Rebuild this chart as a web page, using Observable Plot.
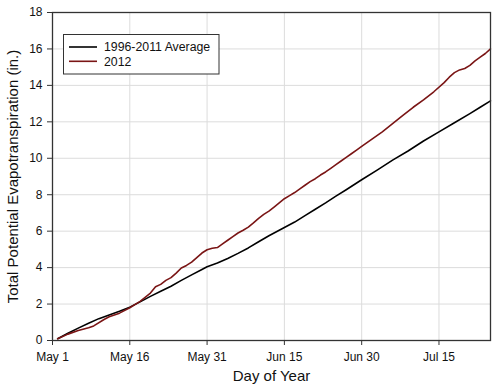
<!DOCTYPE html>
<html><head><meta charset="utf-8">
<script src="https://cdn.jsdelivr.net/npm/d3@7"></script>
<script src="https://cdn.jsdelivr.net/npm/@observablehq/plot@0.6"></script>
<style>
body{margin:0;background:#fff;font-family:"Liberation Sans",Arial,sans-serif;}
</style></head><body><div id="chart"></div>
<script>
// Days since May 1 (0 = May 1)
const avgDays = [1,3,5,7,9,11,13,15,17,19,21,23,25,27,29,30,32,34,36,38,40,42,44,45,47,49,51,53,55,57,60,63,66,69,72,75,78,81,83,85];
const avgValues = [0.1,0.4,0.68,0.95,1.2,1.4,1.6,1.83,2.12,2.42,2.7,2.98,3.3,3.6,3.9,4.05,4.25,4.5,4.78,5.08,5.42,5.75,6.05,6.2,6.5,6.85,7.2,7.55,7.92,8.27,8.82,9.35,9.9,10.4,10.95,11.45,11.95,12.45,12.8,13.15];

const y2012Days = [1,3,5,7,8,10,11,13,15,17,19,20,21,22,23,24,25,26,27,28,29,30,31,32,33,34,35,36,37,38,39,40,41,42,43,44,45,46,47,48,49,50,51,52,53,54,55,56,57,58,59,60,62,64,66,68,70,72,74,76,77,78,79,80,81,82,83,84,85];
const y2012Values = [0.1,0.35,0.55,0.7,0.8,1.15,1.3,1.5,1.8,2.15,2.6,2.95,3.08,3.3,3.45,3.7,3.98,4.12,4.3,4.55,4.8,4.98,5.06,5.1,5.3,5.5,5.7,5.9,6.05,6.22,6.45,6.7,6.92,7.1,7.32,7.55,7.78,7.95,8.12,8.32,8.52,8.72,8.88,9.08,9.25,9.45,9.65,9.85,10.05,10.25,10.45,10.65,11.05,11.45,11.9,12.35,12.8,13.2,13.65,14.15,14.45,14.7,14.85,14.93,15.1,15.35,15.55,15.75,16.0];

const tickDays = [0,15,30,45,60,75];
const tickLabels = ["May 1","May 16","May 31","Jun 15","Jun 30","Jul 15"];
const yTicks = [0,2,4,6,8,10,12,14,16,18];
const seriesNames = ["1996-2011 Average","2012"];
const seriesColors = ["#000000","#7a1515"];

const avg = avgDays.map((d,i)=>({day:d, value:avgValues[i]}));
const y2012 = y2012Days.map((d,i)=>({day:d, value:y2012Values[i]}));
const fmt = d => tickLabels[tickDays.indexOf(d)];

const chart = Plot.plot({
  width:500, height:391,
  marginLeft:52, marginRight:10, marginTop:12, marginBottom:51,
  style:{fontFamily:"Liberation Sans, Arial, sans-serif", fontSize:"12px", color:"#111", background:"#fff"},
  x:{domain:[0,85]},
  y:{domain:[0,18]},
  marks:[
    Plot.gridX(tickDays,{stroke:"#dcdcdc", strokeOpacity:1}),
    Plot.gridY(yTicks,{stroke:"#dcdcdc", strokeOpacity:1}),
    Plot.axisX({ticks:tickDays, tickFormat:fmt, tickSize:5, tickPadding:7, label:null, stroke:"#333"}),
    Plot.axisY({ticks:yTicks, tickSize:5, tickPadding:5, label:null, stroke:"#333"}),
    Plot.line(avg,{x:"day", y:"value", stroke:seriesColors[0], strokeWidth:1.6}),
    Plot.line(y2012,{x:"day", y:"value", stroke:seriesColors[1], strokeWidth:1.6}),
    Plot.frame({stroke:"#333", strokeWidth:1.3}),
    Plot.text(["Day of Year"],{frameAnchor:"bottom", dy:40, fontSize:15, fill:"#111"}),
    Plot.text(["Total Potential Evapotranspiration (in.)"],{frameAnchor:"left", textAnchor:"middle", rotate:-90, dx:-39, fontSize:15, fill:"#111"})
  ]
});
document.getElementById("chart").appendChild(chart);

// Legend inside the plot area
const svg = d3.select(chart);
const lg = svg.append("g").attr("font-family","Liberation Sans, Arial, sans-serif").attr("font-size","12.3px").attr("text-anchor","start");
lg.append("rect").attr("x",63.5).attr("y",34.5).attr("width",155.5).attr("height",39.5)
  .attr("fill","#fff").attr("stroke","#333").attr("stroke-width",1);
seriesNames.forEach((name,i)=>{
  const yy = 47 + i*14.3;
  lg.append("line").attr("x1",69).attr("x2",97).attr("y1",yy).attr("y2",yy)
    .attr("stroke",seriesColors[i]).attr("stroke-width",1.6);
  lg.append("text").attr("x",104).attr("y",yy).attr("dy","0.35em").attr("text-anchor","start").attr("fill","#111").text(name);
});
</script></body></html>
